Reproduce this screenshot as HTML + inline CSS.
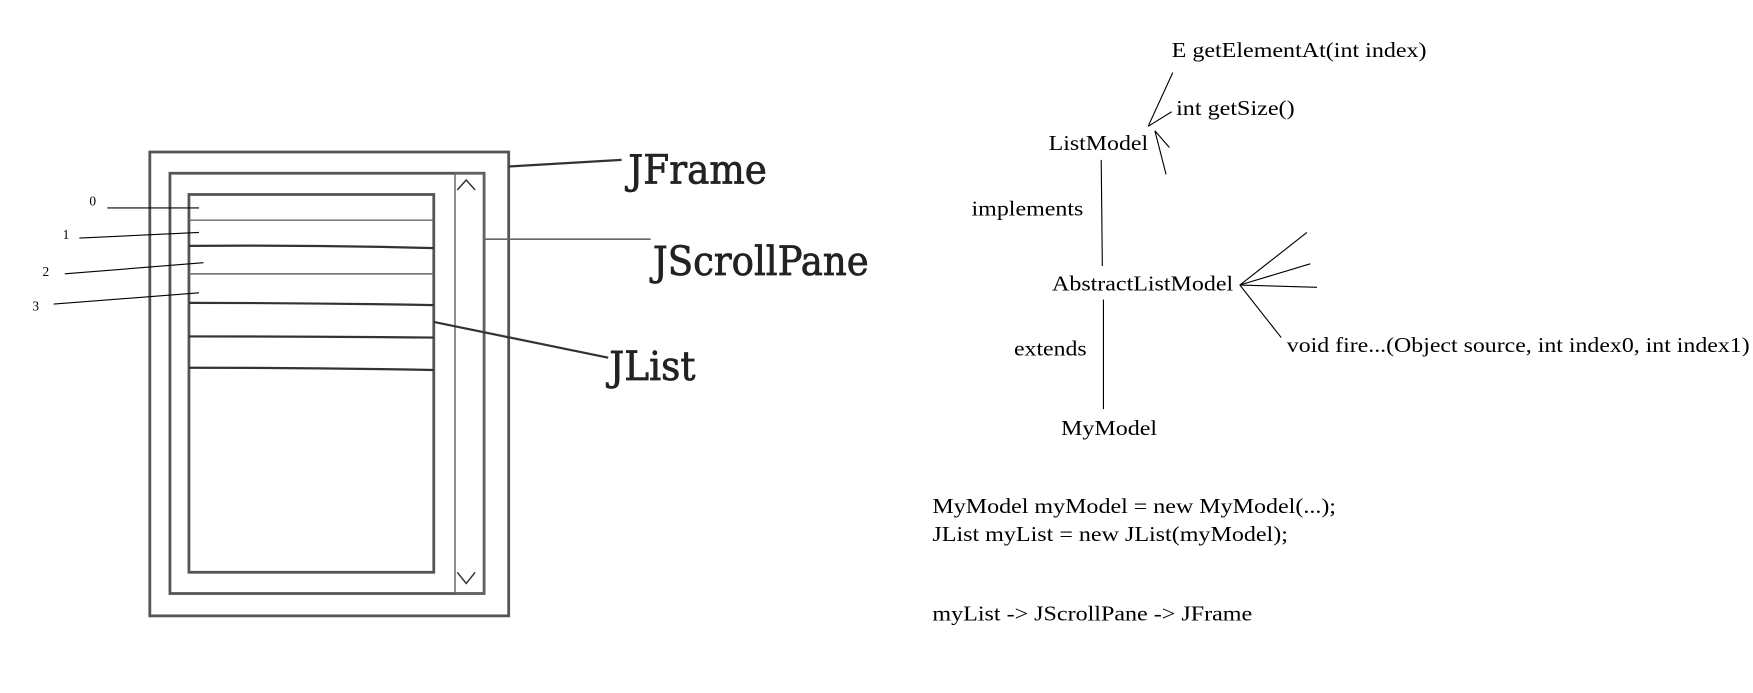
<!DOCTYPE html>
<html><head><meta charset="utf-8"><style>
html,body{margin:0;padding:0;background:#fff;}
svg{display:block;}
</style></head><body>
<svg width="1753" height="693" viewBox="0 0 1568 620" preserveAspectRatio="none" xmlns="http://www.w3.org/2000/svg">
<rect width="1568" height="620" fill="#fff"/>
<g fill="none" stroke="#555" stroke-width="2.5">
<rect x="134" y="136" width="321" height="415"/>
<rect x="152" y="155" width="281" height="376"/>
<rect x="169" y="174" width="219" height="338"/>
</g>
<g stroke="#666" stroke-width="1.3" fill="none">
<rect x="407" y="155" width="26" height="376"/>
<line x1="169" y1="197" x2="388" y2="197"/>
<line x1="169" y1="245" x2="388" y2="245"/>
</g>
<g stroke="#333" stroke-width="2" fill="none">
<path d="M169 220 Q280 219 388 222"/>
<path d="M169 271 Q280 271 388 273"/>
<path d="M169 301 Q280 301 388 302"/>
<path d="M169 329 Q280 329 388 331"/>
<path d="M409 170 L417 161 L425 170" stroke-width="1.3"/>
<path d="M409 512 L417 522 L425 512" stroke-width="1.3"/>
<line x1="455" y1="149" x2="556" y2="143"/>
<line x1="388" y1="288" x2="544" y2="320"/>
</g>
<line x1="432" y1="214" x2="582" y2="214" stroke="#666" stroke-width="1.5"/>
<g stroke="#000" stroke-width="1">
<line x1="96" y1="186" x2="178" y2="186"/>
<line x1="71" y1="213" x2="178" y2="208"/>
<line x1="58" y1="245" x2="182" y2="235"/>
<line x1="48" y1="272" x2="178" y2="262"/>
<line x1="1049" y1="65" x2="1027" y2="113"/>
<line x1="1027" y1="113" x2="1048" y2="100"/>
<line x1="1033" y1="117" x2="1046" y2="132"/>
<line x1="1033" y1="117" x2="1043" y2="156"/>
<line x1="985" y1="143" x2="986" y2="238"/>
<line x1="987" y1="268" x2="987" y2="366"/>
<line x1="1109" y1="255" x2="1169" y2="208"/>
<line x1="1109" y1="255" x2="1172" y2="236"/>
<line x1="1109" y1="255" x2="1178" y2="257"/>
<line x1="1109" y1="255" x2="1146" y2="302"/>
</g>
<g font-family="'DejaVu Serif Condensed','DejaVu Serif',serif" fill="#222" stroke="#222" stroke-width="0.6">
<text x="562" y="164" font-size="36" textLength="124" lengthAdjust="spacingAndGlyphs">JFrame</text>
<text x="584" y="246" font-size="36" textLength="193" lengthAdjust="spacingAndGlyphs">JScrollPane</text>
<text x="545" y="340" font-size="36" textLength="77" lengthAdjust="spacingAndGlyphs">JList</text>
</g>
<g font-family="'Liberation Serif',serif" fill="#000" font-size="12">
<text x="80" y="184">0</text>
<text x="56" y="214">1</text>
<text x="38" y="247">2</text>
<text x="29" y="278">3</text>
</g>
<g font-family="'Liberation Serif',serif" fill="#000" font-size="19" lengthAdjust="spacingAndGlyphs">
<text x="1048" y="51" textLength="228" lengthAdjust="spacingAndGlyphs">E getElementAt(int index)</text>
<text x="1052" y="103" textLength="106" lengthAdjust="spacingAndGlyphs">int getSize()</text>
<text x="938" y="134" textLength="89" lengthAdjust="spacingAndGlyphs">ListModel</text>
<text x="869" y="193" textLength="100" lengthAdjust="spacingAndGlyphs">implements</text>
<text x="941" y="260" textLength="162" lengthAdjust="spacingAndGlyphs">AbstractListModel</text>
<text x="1151" y="315" textLength="414" lengthAdjust="spacingAndGlyphs">void fire...(Object source, int index0, int index1)</text>
<text x="907" y="318" textLength="65" lengthAdjust="spacingAndGlyphs">extends</text>
<text x="949" y="389" textLength="86" lengthAdjust="spacingAndGlyphs">MyModel</text>
<text x="834" y="459" textLength="361" lengthAdjust="spacingAndGlyphs">MyModel myModel = new MyModel(...);</text>
<text x="834" y="484" textLength="318" lengthAdjust="spacingAndGlyphs">JList myList = new JList(myModel);</text>
<text x="834" y="555" textLength="286" lengthAdjust="spacingAndGlyphs">myList -&gt; JScrollPane -&gt; JFrame</text>
</g>
</svg>
</body></html>
